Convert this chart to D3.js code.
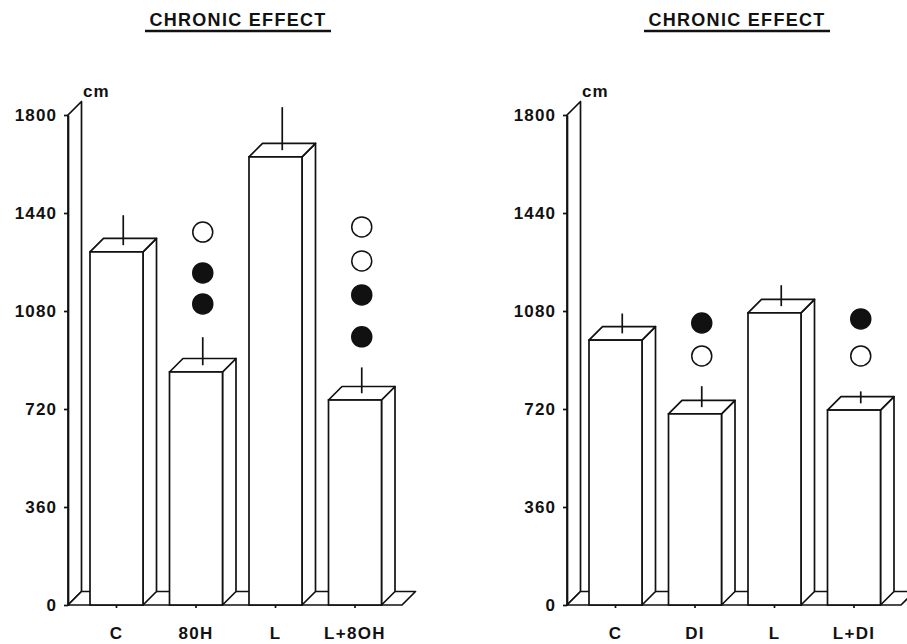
<!DOCTYPE html>
<html>
<head>
<meta charset="utf-8">
<script src="https://cdn.jsdelivr.net/npm/d3@7"></script>
<style>
  body { margin: 0; background: #fff; }
  text { font-family: "Liberation Sans", Arial, Helvetica, sans-serif; fill: #111; }
</style>
</head>
<body>
<div id="chart"></div>
<script>
// values (cm)
const yTicks = [0, 360, 720, 1080, 1440, 1800];

const categoriesLeft = ["C", "80H", "L", "L+8OH"];
const valuesLeft = [1297, 856, 1646, 753];
const errorsLeft = [110, 103, 158, 95];
// significance symbols: [category, level, filled?]
const markersLeft = [
  ["80H", 1370, false], ["80H", 1220, true], ["80H", 1106, true],
  ["L+8OH", 1389, false], ["L+8OH", 1264, false], ["L+8OH", 1139, true], ["L+8OH", 985, true]
];

const categoriesRight = ["C", "DI", "L", "L+DI"];
const valuesRight = [973, 702, 1073, 716];
const errorsRight = [73, 77, 77, 44];
const markersRight = [
  ["DI", 1036, true], ["DI", 915, false],
  ["L+DI", 1051, true], ["L+DI", 915, false]
];

const W = 907, H = 644;
const DEPTH = 13.5;
const INK = "#111";
const SW = 1.7;
const FONT = "Liberation Sans, Arial, sans-serif";

const svg = d3.select("#chart").append("svg")
  .attr("width", W)
  .attr("height", H);

svg.append("rect").attr("width", W).attr("height", H).attr("fill", "#fff");

/**
 * draws one panel of the pseudo-3D bar chart
 * @param {*} ox horizontal offset of the panel
 */
function drawPanel(ox, categories, values, errors, markers, title) {
  let g = svg.append("g").attr("transform", `translate(${ox},0)`);

  let yScale = d3.scaleLinear().domain([0, 1800]).range([605, 115]);
  let xScale = d3.scaleBand()
    .domain(categories)
    .range([90, 381.5])
    .paddingInner(1 - 53 / 79.5)
    .paddingOuter(0);

  let wallX = 68, floorRight = 402;
  let y0 = yScale(0), yTop = yScale(1800);

  // title + underline
  g.append("text")
    .attr("x", 238)
    .attr("y", 26)
    .attr("text-anchor", "middle")
    .style("font-size", "18px")
    .style("font-weight", "bold")
    .style("letter-spacing", "1.3px")
    .text(title);
  g.append("line")
    .attr("x1", 145).attr("x2", 331)
    .attr("y1", 31).attr("y2", 31)
    .attr("stroke", INK).attr("stroke-width", 2.4);

  // unit
  g.append("text")
    .attr("x", 83)
    .attr("y", 97)
    .style("font-size", "17px")
    .style("font-weight", "bold")
    .style("letter-spacing", "1px")
    .text("cm");

  // back wall (seen edge-on)
  g.append("polygon")
    .attr("points", [[wallX, y0], [wallX, yTop], [wallX + DEPTH, yTop - DEPTH], [wallX + DEPTH, y0 - DEPTH]].join(" "))
    .attr("fill", "#fff").attr("stroke", INK).attr("stroke-width", SW).attr("stroke-linejoin", "round");

  // floor
  g.append("polygon")
    .attr("points", [[wallX, y0], [floorRight, y0], [floorRight + DEPTH, y0 - DEPTH], [wallX + DEPTH, y0 - DEPTH]].join(" "))
    .attr("fill", "#fff").attr("stroke", INK).attr("stroke-width", SW).attr("stroke-linejoin", "round");

  // y axis on the front edge of the wall
  let yAxis = d3.axisLeft(yScale)
    .tickValues(yTicks)
    .tickFormat(d3.format("d"))
    .tickSize(4).tickSizeOuter(0).tickPadding(7);
  let ya = g.append("g").attr("transform", `translate(${wallX},0)`).call(yAxis);
  ya.selectAll("path, line").attr("stroke", INK).attr("stroke-width", SW);
  ya.selectAll("text")
    .attr("fill", INK)
    .style("font-family", FONT)
    .style("font-size", "17px")
    .style("font-weight", "bold")
    .style("letter-spacing", "1.1px");

  // x axis: little ticks under the floor edge + labels
  let xAxis = d3.axisBottom(xScale).tickSize(3).tickPadding(19);
  let xa = g.append("g").attr("transform", `translate(0,${y0})`).call(xAxis);
  xa.select(".domain").remove();
  xa.selectAll("line").attr("stroke", INK).attr("stroke-width", SW);
  xa.selectAll("text")
    .attr("fill", INK)
    .style("font-family", FONT)
    .style("font-size", "17px")
    .style("font-weight", "bold")
    .style("letter-spacing", "1.3px");

  let data = categories.map((c, i) => ({ c: c, v: values[i], e: errors[i] }));
  let bw = xScale.bandwidth();

  let bars = g.selectAll(".bar3d").data(data).join("g").classed("bar3d", true);

  // right side face
  bars.append("polygon")
    .attr("points", d => {
      let x = xScale(d.c) + bw, y = yScale(d.v);
      return [[x, y0], [x, y], [x + DEPTH, y - DEPTH], [x + DEPTH, y0 - DEPTH]].join(" ");
    })
    .attr("fill", "#fff").attr("stroke", INK).attr("stroke-width", SW).attr("stroke-linejoin", "round");

  // top face
  bars.append("polygon")
    .attr("points", d => {
      let x = xScale(d.c), y = yScale(d.v);
      return [[x, y], [x + bw, y], [x + bw + DEPTH, y - DEPTH], [x + DEPTH, y - DEPTH]].join(" ");
    })
    .attr("fill", "#fff").attr("stroke", INK).attr("stroke-width", SW).attr("stroke-linejoin", "round");

  // front face
  bars.append("rect")
    .attr("x", d => xScale(d.c))
    .attr("y", d => yScale(d.v))
    .attr("width", bw)
    .attr("height", d => y0 - yScale(d.v))
    .attr("fill", "#fff").attr("stroke", INK).attr("stroke-width", SW);

  // error bar, from the middle of the top face upwards
  bars.append("line")
    .attr("x1", d => xScale(d.c) + bw / 2 + DEPTH / 2)
    .attr("x2", d => xScale(d.c) + bw / 2 + DEPTH / 2)
    .attr("y1", d => yScale(d.v) - DEPTH / 2)
    .attr("y2", d => yScale(d.v + d.e) - DEPTH / 2)
    .attr("stroke", INK).attr("stroke-width", SW);

  // significance circles
  g.selectAll(".sig").data(markers).join("circle")
    .classed("sig", true)
    .attr("cx", d => xScale(d[0]) + bw / 2 + DEPTH / 2)
    .attr("cy", d => yScale(d[1]))
    .attr("r", 10)
    .attr("fill", d => d[2] ? INK : "#fff")
    .attr("stroke", INK).attr("stroke-width", 1.5);
}

drawPanel(0, categoriesLeft, valuesLeft, errorsLeft, markersLeft, "CHRONIC EFFECT");
drawPanel(499, categoriesRight, valuesRight, errorsRight, markersRight, "CHRONIC EFFECT");
</script>
</body>
</html>
